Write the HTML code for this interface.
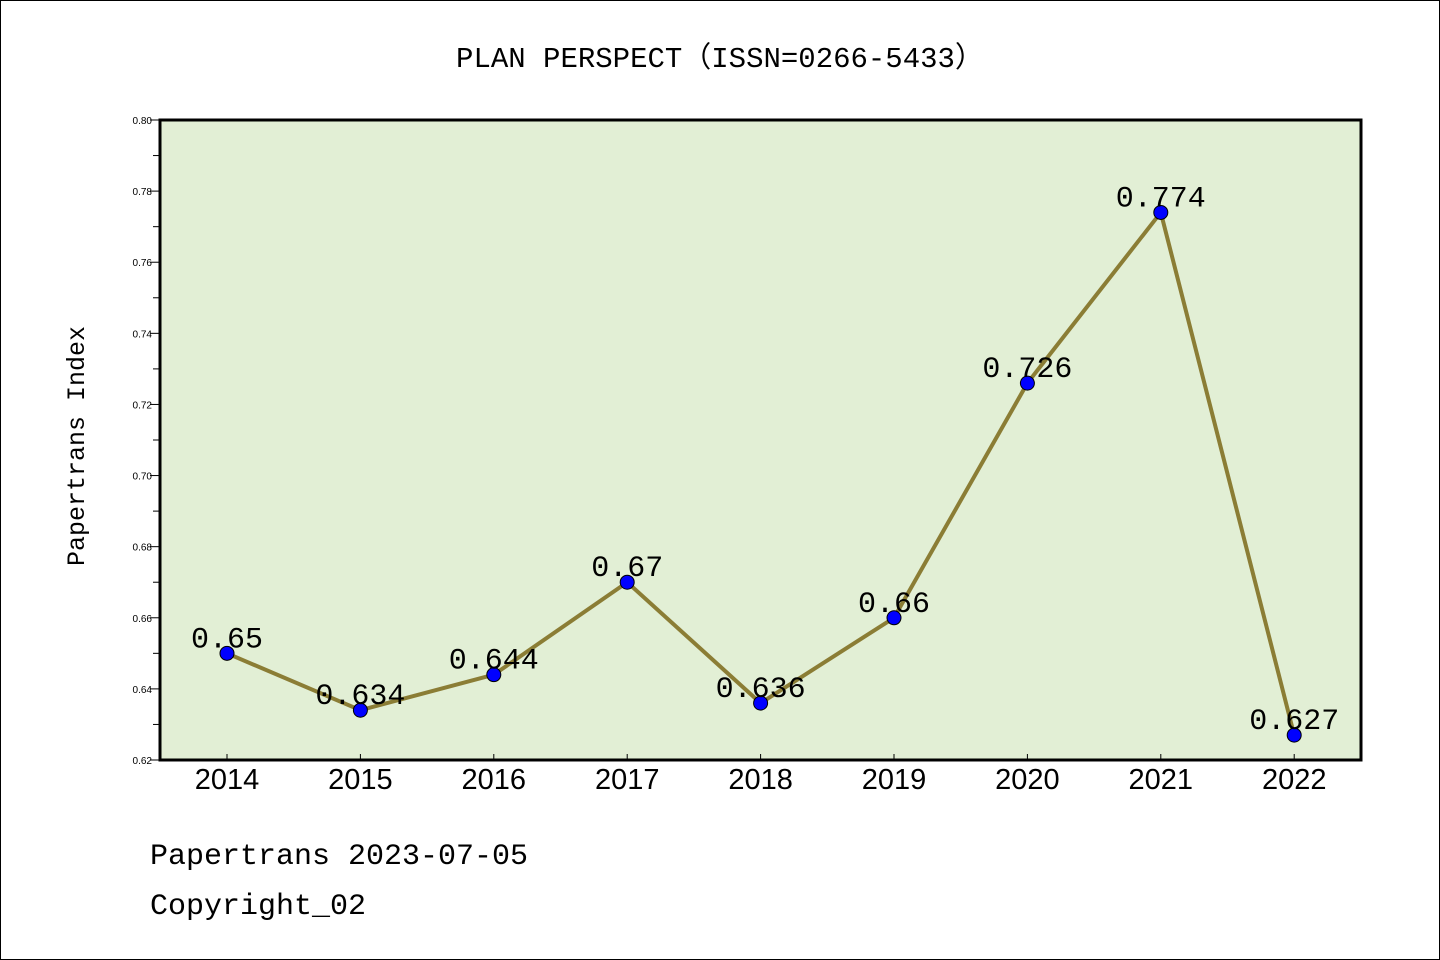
<!DOCTYPE html>
<html><head><meta charset="utf-8"><style>
body{margin:0;background:#fff}
svg{display:block}
text{font-family:"Liberation Sans","Noto Sans CJK SC",sans-serif}
</style></head><body>
<svg id="chart" width="1440" height="960" xmlns="http://www.w3.org/2000/svg">
<rect x="0.5" y="0.5" width="1439" height="959" fill="#fff" stroke="#000"/>
<text x="720" y="67" text-anchor="middle" font-size="29" style="font-family:'Liberation Mono','Noto Sans CJK SC',monospace">PLAN PERSPECT（ISSN=0266-5433）</text>
<rect x="160" y="120" width="1201" height="640" fill="#e2efd5"/>
<g id="yaxis"></g>
<g id="xaxis"></g>
<g id="series"></g>
<rect x="160" y="120" width="1201" height="640" fill="none" stroke="#000" stroke-width="3"/>
<text transform="translate(84,446) rotate(-90)" text-anchor="middle" font-size="25" style="font-family:'Liberation Mono',monospace">Papertrans Index</text>
<text x="150" y="864" font-size="30" style="font-family:'Liberation Mono',monospace">Papertrans 2023-07-05</text>
<text x="150" y="914" font-size="30" style="font-family:'Liberation Mono',monospace">Copyright_02</text>
</svg>
<script>
const years=["2014","2015","2016","2017","2018","2019","2020","2021","2022"];
const values=[0.65,0.634,0.644,0.67,0.636,0.66,0.726,0.774,0.627];
const valueLabels=["0.65","0.634","0.644","0.67","0.636","0.66","0.726","0.774","0.627"];
const yTicks=[0.62,0.64,0.66,0.68,0.70,0.72,0.74,0.76,0.78,0.80];
const ns="http://www.w3.org/2000/svg";
const yMin=0.62,yMax=0.80,plotTop=120,plotBot=760;
function yS(v){return plotBot-(v-yMin)/(yMax-yMin)*(plotBot-plotTop);}
function xS(i){return 227+i*133.4;}
function mk(tag,attrs,parent){const e=document.createElementNS(ns,tag);for(const k in attrs)e.setAttribute(k,attrs[k]);parent.appendChild(e);return e;}
const ya=document.getElementById('yaxis'),xa=document.getElementById('xaxis'),se=document.getElementById('series');
yTicks.forEach((t,i)=>{
 const l=mk('line',{x1:150,x2:160,y1:yS(t),y2:yS(t),stroke:'#000'},ya);
 
 
 const tx=mk('text',{x:152,y:yS(t)+4,'text-anchor':'end','font-size':10},ya);
 tx.textContent=t.toFixed(2);
 
 
 if(i<yTicks.length-1){const m=(t+yTicks[i+1])/2;
  const ml=mk('line',{x1:153,x2:160,y1:yS(m),y2:yS(m),stroke:'#000'},ya);
  
  }
});
years.forEach((yr,i)=>{
 const l=mk('line',{x1:xS(i),x2:xS(i),y1:754,y2:760,stroke:'#000'},xa);
 
 
 const t=mk('text',{x:xS(i),y:789,'text-anchor':'middle','font-size':29},xa);
 t.textContent=yr;
 
 
});
const pts=values.map((v,i)=>xS(i)+','+yS(v)).join(' ');
const pl=mk('polyline',{points:pts,fill:'none',stroke:'#8b7d35','stroke-width':4,'stroke-linejoin':'round'},se);


values.forEach((v,i)=>{
 const c=mk('circle',{cx:xS(i),cy:yS(v),r:7,fill:'#0000ff',stroke:'#000','stroke-width':1},se);
 
 
 const t=mk('text',{x:xS(i),y:yS(v)-6,'text-anchor':'middle','font-size':30,style:"font-family:'Liberation Mono',monospace"},se);
 t.textContent=valueLabels[i];
 
 
});
</script>
</body></html>
